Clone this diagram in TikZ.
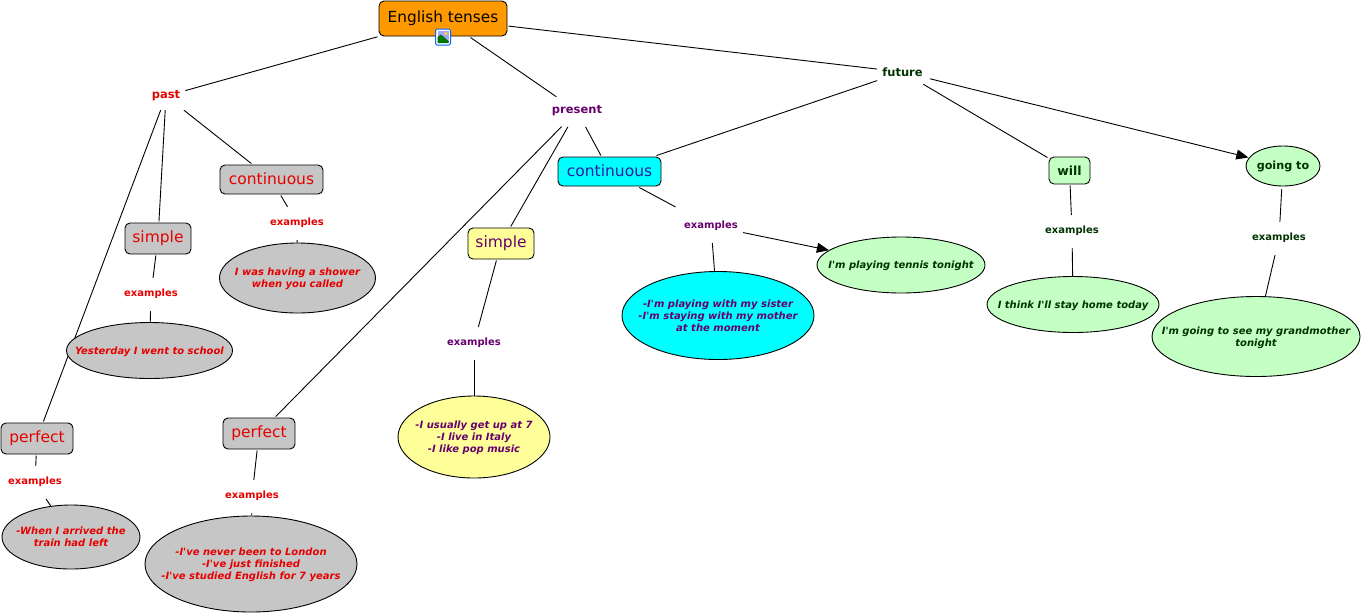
\documentclass[tikz,border=0pt]{standalone}
\usepackage{fontspec}
\setmainfont{DejaVu Sans}
\usetikzlibrary{shapes.geometric,arrows.meta,backgrounds}
\definecolor{rd}{HTML}{E60000}
\definecolor{pu}{HTML}{66006F}
\definecolor{gn}{HTML}{003300}
\definecolor{bl}{HTML}{2A1FA0}
\definecolor{gy}{HTML}{C6C6C6}
\definecolor{yl}{HTML}{FFFF99}
\definecolor{lg}{HTML}{C4FFC4}
\definecolor{or}{HTML}{FF9900}
\definecolor{cy}{HTML}{00FFFF}
\font\apf="DejaVu Sans/BI" at 10pt
\newcommand\ap{{\apf\char39}}
\newcommand\ot[1]{\makebox[0pt][c]{\smash{\raisebox{-3.9pt}{\begin{tabular}{@{}c@{}}#1\end{tabular}}}}}
\tikzset{
 x=1pt,y=-1pt,
 conn/.style={draw=black,line width=0.9pt},
 arr/.style={conn,-{Triangle[length=12pt,width=10pt]}},
 lowa/.style={shorten <=1pt},
 lowb/.style={shorten <=2pt},
 boxn/.style={draw=black,line width=0.9pt,rounded corners=5pt,inner sep=0pt,outer sep=1.5pt,font=\fontsize{15.5}{18}\selectfont},
 concept/.style={inner ysep=0pt,inner xsep=5pt,minimum height=28pt,font=\fontsize{11.5}{14}\selectfont\bfseries},
 exa/.style={inner ysep=0pt,inner xsep=5pt,minimum height=32pt,font=\fontsize{10}{12}\selectfont\bfseries},
 oval/.style={ellipse,draw=black,line width=0.9pt,inner sep=0pt,font=\fontsize{10}{12}\selectfont\bfseries\itshape},
}
\begin{document}
\begin{tikzpicture}
\useasboundingbox (0,0) rectangle (1364,614);
% main
\node[boxn,fill=or,minimum width=128pt,minimum height=35pt,font=\fontsize{15.3}{18}\selectfont] (root) at (443,18.5) {English tenses};
% concept words
\node[concept,text=rd] (past) at (166,96) {past};
\node[concept,text=pu] (present) at (577,111) {present};
\node[concept,text=gn,minimum height=24pt] (future) at (902.5,72) {future};
% past
\node[boxn,fill=gy,text=rd,minimum width=103pt,minimum height=29pt] (pcont) at (271.5,179.5) {\raisebox{1pt}{continuous}};
\node[exa,text=rd] (e1) at (297,223) {examples};
\node[oval,fill=gy,text=rd,minimum width=156pt,minimum height=70pt] (o1) at (297.5,278) {\ot{I was having a shower\\when you called}};
\node[boxn,fill=gy,text=rd,minimum width=66pt,minimum height=31pt] (psimple) at (158,238.5) {simple};
\node[exa,text=rd] (e2) at (151,294) {examples};
\node[oval,fill=gy,text=rd,minimum width=166pt,minimum height=56pt] (o2) at (149.5,350.5) {\ot{Yesterday I went to school}};
\node[boxn,fill=gy,text=rd,minimum width=72pt,minimum height=31pt] (pperf) at (37,438.5) {perfect};
\node[exa,text=rd] (e3) at (35,482) {examples};
\node[oval,fill=gy,text=rd,minimum width=138pt,minimum height=64pt] (o3) at (71,537) {\ot{-When I arrived the\\train had left}};
% present
\node[boxn,fill=gy,text=rd,minimum width=72pt,minimum height=31pt] (prperf) at (259,433.5) {perfect};
\node[exa,text=rd] (e4) at (252,496) {examples};
\node[oval,fill=gy,text=rd,minimum width=212pt,minimum height=96pt] (o4) at (251,564) {\ot{-I\ap ve never been to London\\-I\ap ve just finished\\-I\ap ve studied English for 7 years}};
\node[boxn,fill=yl,text=pu,minimum width=66pt,minimum height=31pt] (prsimple) at (501,243.5) {simple};
\node[exa,text=pu] (e5) at (474,343) {examples};
\node[oval,fill=yl,text=pu,minimum width=152pt,minimum height=82pt] (o5) at (474,437) {\ot{-I usually get up at 7\\-I live in Italy\\-I like pop music}};
\node[boxn,fill=cy,text=bl,minimum width=103pt,minimum height=29pt] (prcont) at (609.5,171.5) {\raisebox{1pt}{continuous}};
\node[exa,text=pu] (e6) at (711,226) {examples};
\node[oval,fill=cy,text=pu,minimum width=192pt,minimum height=88pt] (o6) at (718,315.5) {\ot{-I\ap m playing with my sister\\-I\ap m staying with my mother\\at the moment}};
\node[oval,fill=lg,text=gn,minimum width=168pt,minimum height=56pt] (o7) at (901,265) {\ot{I\ap m playing tennis tonight}};
% future
\node[boxn,fill=lg,text=gn,minimum width=41pt,minimum height=27pt,font=\fontsize{12.5}{15}\selectfont\bfseries] (will) at (1069.5,170.5) {will};
\node[exa,text=gn] (e7) at (1072,231) {examples};
\node[oval,fill=lg,text=gn,minimum width=172pt,minimum height=56pt] (o8) at (1073,304.5) {\ot{I think I\ap ll stay home today}};
\node[ellipse,draw=black,line width=0.9pt,inner sep=0pt,outer sep=1pt,fill=lg,text=gn,minimum width=74pt,minimum height=40pt,font=\fontsize{11.2}{14}\selectfont\bfseries] (going) at (1283,166) {\ot{going to}};
\node[exa,text=gn] (e8) at (1279,238) {examples};
\node[oval,fill=lg,text=gn,minimum width=208pt,minimum height=80pt] (o9) at (1256,336.5) {\ot{I\ap m going to see my grandmother\\tonight}};
% connectors under the nodes
\begin{scope}[on background layer]
\fill[white] (0,0) rectangle (1364,614);
\draw[conn] (root) -- (past);
\draw[conn] (root) -- (present);
\draw[conn] (root) -- (future);
\draw[conn] (past) -- (pcont);
\draw[conn] (past) -- (psimple);
\draw[conn] (past) -- (pperf);
\draw[conn] (pcont) -- (e1);
\draw[conn,lowa] (e1) -- (o1);
\draw[conn] (psimple) -- (e2);
\draw[conn,lowa] (e2) -- (o2);
\draw[conn] (pperf) -- (e3);
\draw[conn,lowa] (e3) -- (o3);
\draw[conn,lowb] (present) -- (prcont);
\draw[conn,lowb] (present) -- (prsimple);
\draw[conn,lowb] (present) -- (prperf);
\draw[conn] (prperf) -- (e4);
\draw[conn,lowa] (e4) -- (o4);
\draw[conn] (prsimple) -- (e5);
\draw[conn,lowa] (e5) -- (o5);
\draw[conn,shorten >=6pt] (prcont) -- (e6);
\draw[conn,lowa] (e6) -- (o6);
\draw[arr] (e6) -- (o7);
\draw[conn] (future) -- (prcont);
\draw[conn] (future) -- (will);
\draw[arr,lowb] (future) -- (going);
\draw[conn] (will) -- (e7);
\draw[conn,lowa] (e7) -- (o8);
\draw[conn,lowb] (going) -- (e8);
\draw[conn,lowa] (e8) -- (o9);
\end{scope}
% image icon on the main node
\draw[draw=blue!60!cyan,line width=1pt,fill=white,rounded corners=1.5pt] (435.5,29) rectangle (450.5,45);
\fill[blue!35!white] (437.5,31) rectangle (448.5,43);
\fill[yellow!85!orange] (446,33.5) circle (1.6);
\fill[green!45!black] (437.5,43) -- (437.5,37) -- (441,34.5) -- (448.5,41) -- (448.5,43) -- cycle;
\end{tikzpicture}
\end{document}
